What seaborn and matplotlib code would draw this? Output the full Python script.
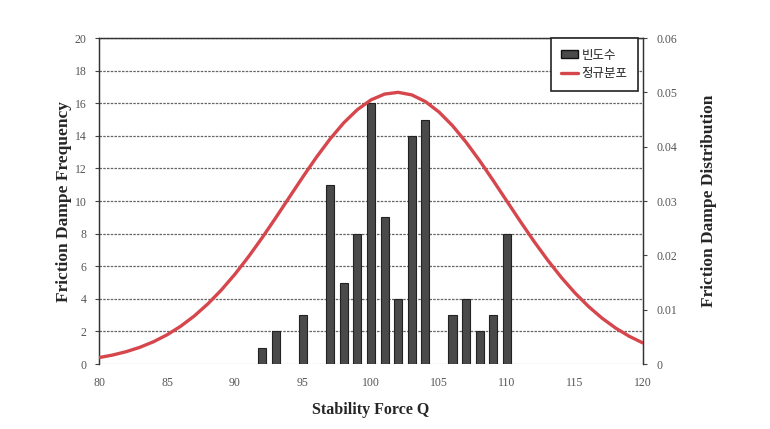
import numpy as np
import pandas as pd
import matplotlib
matplotlib.use("Agg")
import matplotlib.pyplot as plt
import seaborn as sns
from matplotlib.patches import Patch
from matplotlib.lines import Line2D

# ---- data ----
force_bins = [92, 93, 95, 97, 98, 99, 100, 101, 102, 103, 104, 106, 107, 108, 109, 110]
frequency = [1, 2, 3, 11, 5, 8, 16, 9, 4, 14, 15, 3, 4, 2, 3, 8]

curve_x = list(range(80, 121))
curve_y = [0.00118, 0.00165, 0.00227, 0.00307, 0.00409, 0.00537, 0.00694, 0.00883,
           0.01106, 0.01363, 0.01654, 0.01977, 0.02325, 0.02693, 0.03071, 0.03447,
           0.03810, 0.04145, 0.04440, 0.04682, 0.04861, 0.04968, 0.05000, 0.04953,
           0.04830, 0.04638, 0.04385, 0.04080, 0.03739, 0.03372, 0.02994, 0.02618,
           0.02253, 0.01910, 0.01593, 0.01308, 0.01058, 0.00842, 0.00660, 0.00509,
           0.00387]

x_ticks = [80, 85, 90, 95, 100, 105, 110, 115, 120]
left_ticks = list(range(0, 21, 2))
right_ticks = [0, 0.01, 0.02, 0.03, 0.04, 0.05, 0.06]
right_labels = ["0", "0.01", "0.02", "0.03", "0.04", "0.05", "0.06"]
legend_labels = ["빈도수", "정규분포"]

bar_df = pd.DataFrame({"force": force_bins, "freq": frequency})
curve_df = pd.DataFrame({"force": curve_x, "dist": curve_y})

sns.set_style("white")
plt.rcParams["font.family"] = ["Liberation Serif", "DejaVu Serif"]

fig = plt.figure(figsize=(7.7, 4.29), dpi=100)
ax = fig.add_axes([0.1286, 0.1515, 0.7064, 0.7599])

tick_color = "#555555"
red = "#d5474c"
bar_color = "#4a4a4a"

# grid
for v in left_ticks[1:]:
    ax.axhline(v, color="#666666", lw=0.9, ls=(0, (2, 1)), zorder=0)
ax.axhline(0, color="#888888", lw=0.9, ls=(0, (1, 1)), zorder=0)

sns.barplot(data=bar_df, x="force", y="freq", native_scale=True, width=0.6,
            color=bar_color, edgecolor="#222222", linewidth=0.8, saturation=1,
            ax=ax, zorder=2)

ax.set_xlim(80, 120)
ax.set_ylim(0, 20)
ax.set_xticks(x_ticks)
ax.set_xticklabels([str(t) for t in x_ticks])
ax.set_yticks(left_ticks)
ax.tick_params(axis="both", labelsize=8.5, labelcolor=tick_color, length=3,
               direction="out", color="#444444", width=0.8)
ax.tick_params(axis="y", pad=6)
ax.tick_params(axis="x", pad=6)
ax.set_xlabel("Stability Force Q", fontsize=11.5, fontweight="bold", labelpad=10)
ax.set_ylabel("Friction Dampe Frequency", fontsize=12.5, fontweight="bold")
ax.yaxis.set_label_coords(-0.05, 0.5)

ax2 = ax.twinx()
sns.lineplot(data=curve_df, x="force", y="dist", color=red, lw=2.4, ax=ax2, zorder=3)
ax2.set_ylim(0, 0.06)
ax2.set_xlim(80, 120)
ax2.set_yticks(right_ticks)
ax2.set_yticklabels(right_labels)
ax2.tick_params(axis="y", labelsize=8.5, labelcolor=tick_color, length=3,
                direction="out", color="#444444", width=0.8, pad=7)
ax2.set_ylabel("Friction Dampe Distribution", fontsize=12.5, fontweight="bold", labelpad=17)
ax2.set_xlabel("")

for a in (ax, ax2):
    for s in a.spines.values():
        s.set_color("#333333")
        s.set_linewidth(0.9)
ax.spines["bottom"].set_visible(False)
ax2.spines["bottom"].set_visible(False)

handles = [Patch(facecolor=bar_color, edgecolor="#111111", linewidth=1.0),
           Line2D([0], [0], color=red, lw=2.4)]
leg = ax2.legend(handles, legend_labels, loc="upper right", fancybox=False,
                 frameon=True, edgecolor="#222222", framealpha=1,
                 prop={"family": ["Noto Sans CJK KR", "DejaVu Sans"], "size": 9},
                 bbox_to_anchor=(638 / 770, 1 - 38 / 429),
                 bbox_transform=fig.transFigure,
                 borderaxespad=0.0, handlelength=1.3, handleheight=0.6,
                 handletextpad=0.3, borderpad=0.85, labelspacing=0.45)
leg.get_frame().set_linewidth(1.2)

fig.savefig("out.png", dpi=100)
